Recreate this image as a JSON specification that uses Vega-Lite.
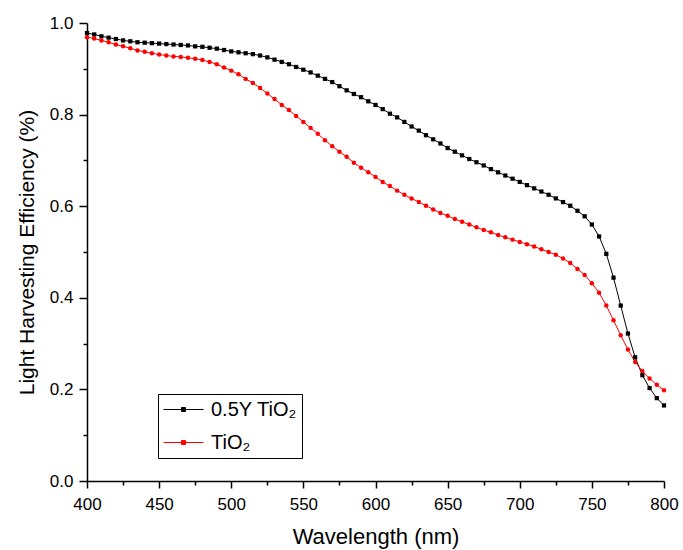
{
  "$schema": "https://vega.github.io/schema/vega-lite/v6.json",
  "width": 577,
  "height": 458,
  "autosize": {"type": "none"},
  "padding": {"left": 87, "top": 23, "right": 19, "bottom": 69},
  "background": "white",
  "config": {
    "view": {"stroke": null},
    "font": "Liberation Sans",
    "axis": {"labelFont": "Liberation Sans", "titleFont": "Liberation Sans", "labelColor": "#000", "titleColor": "#000", "domainColor": "#000", "tickColor": "#000", "grid": false, "titleFontWeight": "normal", "domainWidth": 1.5, "tickWidth": 1.5, "labelFontSize": 17, "titleFontSize": 22}
  },
  "datasets": {
    "lhe": [
      {"s":"0.5Y TiO₂","wl":400,"v":0.978},{"s":"0.5Y TiO₂","wl":405,"v":0.975},{"s":"0.5Y TiO₂","wl":410,"v":0.971},{"s":"0.5Y TiO₂","wl":415,"v":0.968},{"s":"0.5Y TiO₂","wl":420,"v":0.965},{"s":"0.5Y TiO₂","wl":425,"v":0.962},{"s":"0.5Y TiO₂","wl":430,"v":0.960},{"s":"0.5Y TiO₂","wl":435,"v":0.958},{"s":"0.5Y TiO₂","wl":440,"v":0.957},{"s":"0.5Y TiO₂","wl":445,"v":0.956},
      {"s":"0.5Y TiO₂","wl":450,"v":0.955},{"s":"0.5Y TiO₂","wl":455,"v":0.954},{"s":"0.5Y TiO₂","wl":460,"v":0.953},{"s":"0.5Y TiO₂","wl":465,"v":0.952},{"s":"0.5Y TiO₂","wl":470,"v":0.951},{"s":"0.5Y TiO₂","wl":475,"v":0.949},{"s":"0.5Y TiO₂","wl":480,"v":0.948},{"s":"0.5Y TiO₂","wl":485,"v":0.946},{"s":"0.5Y TiO₂","wl":490,"v":0.944},{"s":"0.5Y TiO₂","wl":495,"v":0.941},
      {"s":"0.5Y TiO₂","wl":500,"v":0.938},{"s":"0.5Y TiO₂","wl":505,"v":0.936},{"s":"0.5Y TiO₂","wl":510,"v":0.934},{"s":"0.5Y TiO₂","wl":515,"v":0.932},{"s":"0.5Y TiO₂","wl":520,"v":0.929},{"s":"0.5Y TiO₂","wl":525,"v":0.925},{"s":"0.5Y TiO₂","wl":530,"v":0.920},{"s":"0.5Y TiO₂","wl":535,"v":0.915},{"s":"0.5Y TiO₂","wl":540,"v":0.910},{"s":"0.5Y TiO₂","wl":545,"v":0.904},
      {"s":"0.5Y TiO₂","wl":550,"v":0.898},{"s":"0.5Y TiO₂","wl":555,"v":0.892},{"s":"0.5Y TiO₂","wl":560,"v":0.885},{"s":"0.5Y TiO₂","wl":565,"v":0.878},{"s":"0.5Y TiO₂","wl":570,"v":0.871},{"s":"0.5Y TiO₂","wl":575,"v":0.862},{"s":"0.5Y TiO₂","wl":580,"v":0.853},{"s":"0.5Y TiO₂","wl":585,"v":0.845},{"s":"0.5Y TiO₂","wl":590,"v":0.838},{"s":"0.5Y TiO₂","wl":595,"v":0.829},
      {"s":"0.5Y TiO₂","wl":600,"v":0.821},{"s":"0.5Y TiO₂","wl":605,"v":0.812},{"s":"0.5Y TiO₂","wl":610,"v":0.802},{"s":"0.5Y TiO₂","wl":615,"v":0.794},{"s":"0.5Y TiO₂","wl":620,"v":0.784},{"s":"0.5Y TiO₂","wl":625,"v":0.774},{"s":"0.5Y TiO₂","wl":630,"v":0.765},{"s":"0.5Y TiO₂","wl":635,"v":0.755},{"s":"0.5Y TiO₂","wl":640,"v":0.746},{"s":"0.5Y TiO₂","wl":645,"v":0.737},
      {"s":"0.5Y TiO₂","wl":650,"v":0.727},{"s":"0.5Y TiO₂","wl":655,"v":0.719},{"s":"0.5Y TiO₂","wl":660,"v":0.711},{"s":"0.5Y TiO₂","wl":665,"v":0.703},{"s":"0.5Y TiO₂","wl":670,"v":0.696},{"s":"0.5Y TiO₂","wl":675,"v":0.689},{"s":"0.5Y TiO₂","wl":680,"v":0.681},{"s":"0.5Y TiO₂","wl":685,"v":0.674},{"s":"0.5Y TiO₂","wl":690,"v":0.667},{"s":"0.5Y TiO₂","wl":695,"v":0.660},
      {"s":"0.5Y TiO₂","wl":700,"v":0.653},{"s":"0.5Y TiO₂","wl":705,"v":0.646},{"s":"0.5Y TiO₂","wl":710,"v":0.639},{"s":"0.5Y TiO₂","wl":715,"v":0.632},{"s":"0.5Y TiO₂","wl":720,"v":0.625},{"s":"0.5Y TiO₂","wl":725,"v":0.617},{"s":"0.5Y TiO₂","wl":730,"v":0.609},{"s":"0.5Y TiO₂","wl":735,"v":0.601},{"s":"0.5Y TiO₂","wl":740,"v":0.590},{"s":"0.5Y TiO₂","wl":745,"v":0.578},
      {"s":"0.5Y TiO₂","wl":750,"v":0.560},{"s":"0.5Y TiO₂","wl":755,"v":0.534},{"s":"0.5Y TiO₂","wl":760,"v":0.496},{"s":"0.5Y TiO₂","wl":765,"v":0.444},{"s":"0.5Y TiO₂","wl":770,"v":0.383},{"s":"0.5Y TiO₂","wl":775,"v":0.322},{"s":"0.5Y TiO₂","wl":780,"v":0.270},{"s":"0.5Y TiO₂","wl":785,"v":0.231},{"s":"0.5Y TiO₂","wl":790,"v":0.203},{"s":"0.5Y TiO₂","wl":795,"v":0.181},
      {"s":"0.5Y TiO₂","wl":800,"v":0.165},
      {"s":"TiO₂","wl":400,"v":0.969},{"s":"TiO₂","wl":405,"v":0.966},{"s":"TiO₂","wl":410,"v":0.962},{"s":"TiO₂","wl":415,"v":0.958},{"s":"TiO₂","wl":420,"v":0.953},{"s":"TiO₂","wl":425,"v":0.949},{"s":"TiO₂","wl":430,"v":0.945},{"s":"TiO₂","wl":435,"v":0.940},{"s":"TiO₂","wl":440,"v":0.937},{"s":"TiO₂","wl":445,"v":0.934},
      {"s":"TiO₂","wl":450,"v":0.931},{"s":"TiO₂","wl":455,"v":0.929},{"s":"TiO₂","wl":460,"v":0.927},{"s":"TiO₂","wl":465,"v":0.926},{"s":"TiO₂","wl":470,"v":0.924},{"s":"TiO₂","wl":475,"v":0.922},{"s":"TiO₂","wl":480,"v":0.919},{"s":"TiO₂","wl":485,"v":0.915},{"s":"TiO₂","wl":490,"v":0.910},{"s":"TiO₂","wl":495,"v":0.903},
      {"s":"TiO₂","wl":500,"v":0.896},{"s":"TiO₂","wl":505,"v":0.888},{"s":"TiO₂","wl":510,"v":0.878},{"s":"TiO₂","wl":515,"v":0.869},{"s":"TiO₂","wl":520,"v":0.858},{"s":"TiO₂","wl":525,"v":0.846},{"s":"TiO₂","wl":530,"v":0.834},{"s":"TiO₂","wl":535,"v":0.821},{"s":"TiO₂","wl":540,"v":0.810},{"s":"TiO₂","wl":545,"v":0.797},
      {"s":"TiO₂","wl":550,"v":0.784},{"s":"TiO₂","wl":555,"v":0.771},{"s":"TiO₂","wl":560,"v":0.758},{"s":"TiO₂","wl":565,"v":0.744},{"s":"TiO₂","wl":570,"v":0.731},{"s":"TiO₂","wl":575,"v":0.719},{"s":"TiO₂","wl":580,"v":0.708},{"s":"TiO₂","wl":585,"v":0.695},{"s":"TiO₂","wl":590,"v":0.684},{"s":"TiO₂","wl":595,"v":0.674},
      {"s":"TiO₂","wl":600,"v":0.664},{"s":"TiO₂","wl":605,"v":0.653},{"s":"TiO₂","wl":610,"v":0.644},{"s":"TiO₂","wl":615,"v":0.634},{"s":"TiO₂","wl":620,"v":0.625},{"s":"TiO₂","wl":625,"v":0.617},{"s":"TiO₂","wl":630,"v":0.609},{"s":"TiO₂","wl":635,"v":0.601},{"s":"TiO₂","wl":640,"v":0.593},{"s":"TiO₂","wl":645,"v":0.585},
      {"s":"TiO₂","wl":650,"v":0.579},{"s":"TiO₂","wl":655,"v":0.572},{"s":"TiO₂","wl":660,"v":0.566},{"s":"TiO₂","wl":665,"v":0.560},{"s":"TiO₂","wl":670,"v":0.554},{"s":"TiO₂","wl":675,"v":0.548},{"s":"TiO₂","wl":680,"v":0.543},{"s":"TiO₂","wl":685,"v":0.537},{"s":"TiO₂","wl":690,"v":0.532},{"s":"TiO₂","wl":695,"v":0.527},
      {"s":"TiO₂","wl":700,"v":0.522},{"s":"TiO₂","wl":705,"v":0.517},{"s":"TiO₂","wl":710,"v":0.512},{"s":"TiO₂","wl":715,"v":0.506},{"s":"TiO₂","wl":720,"v":0.500},{"s":"TiO₂","wl":725,"v":0.494},{"s":"TiO₂","wl":730,"v":0.486},{"s":"TiO₂","wl":735,"v":0.476},{"s":"TiO₂","wl":740,"v":0.463},{"s":"TiO₂","wl":745,"v":0.450},
      {"s":"TiO₂","wl":750,"v":0.432},{"s":"TiO₂","wl":755,"v":0.411},{"s":"TiO₂","wl":760,"v":0.383},{"s":"TiO₂","wl":765,"v":0.351},{"s":"TiO₂","wl":770,"v":0.318},{"s":"TiO₂","wl":775,"v":0.287},{"s":"TiO₂","wl":780,"v":0.260},{"s":"TiO₂","wl":785,"v":0.240},{"s":"TiO₂","wl":790,"v":0.224},{"s":"TiO₂","wl":795,"v":0.210},
      {"s":"TiO₂","wl":800,"v":0.198}
    ]
  },
  "data": {"name": "lhe"},
  "encoding": {
    "x": {"field": "wl", "type": "quantitative", "title": "Wavelength (nm)",
      "scale": {"domain": [400, 800], "nice": false, "zero": false},
      "axis": {"values": [400,425,450,475,500,525,550,575,600,625,650,675,700,725,750,775,800],
        "labelExpr": "datum.value % 50 == 0 ? datum.label : ''",
        "tickSize": {"condition": {"test": "datum.value % 50 == 0", "value": 7}, "value": 4},
        "labelPadding": 8, "titlePadding": 14, "labelFlush": false}},
    "y": {"field": "v", "type": "quantitative", "title": "Light Harvesting Efficiency (%)",
      "scale": {"domain": [0, 1.0], "nice": false},
      "axis": {"values": [0,0.1,0.2,0.3,0.4,0.5,0.6,0.7,0.8,0.9,1.0],
        "labelExpr": "round(datum.value*10) % 2 == 0 ? format(datum.value, '.1f') : ''",
        "tickSize": {"condition": {"test": "round(datum.value*10) % 2 == 0", "value": 8}, "value": 4},
        "labelPadding": 6, "titlePadding": 12, "titleFontSize": 21, "labelFlush": false}},
    "color": {"field": "s", "type": "nominal",
      "scale": {"domain": ["0.5Y TiO₂", "TiO₂"], "range": ["#000000", "#ff0000"]},
      "legend": {"title": null, "orient": "none", "legendX": 71, "legendY": 371,
        "strokeColor": "#000", "padding": 5, "fillColor": "white",
        "symbolType": "M-2,0H2M-0.2,-0.2H0.2V0.2H-0.2Z", "symbolSize": 400, "symbolStrokeWidth": 1, "symbolOffset": 10,
        "labelFont": "Liberation Sans", "labelFontSize": 20, "labelColor": "#000", "rowPadding": 12, "labelOffset": 17}}
  },
  "layer": [
    {"mark": {"type": "line", "strokeWidth": 1}},
    {"transform": [{"filter": "datum.s == '0.5Y TiO₂'"}],
     "mark": {"type": "point", "filled": true, "size": 18, "opacity": 1, "shape": "square"}},
    {"transform": [{"filter": "datum.s == 'TiO₂'"}],
     "mark": {"type": "point", "filled": true, "size": 20, "opacity": 1, "shape": "circle"}}
  ]
}
